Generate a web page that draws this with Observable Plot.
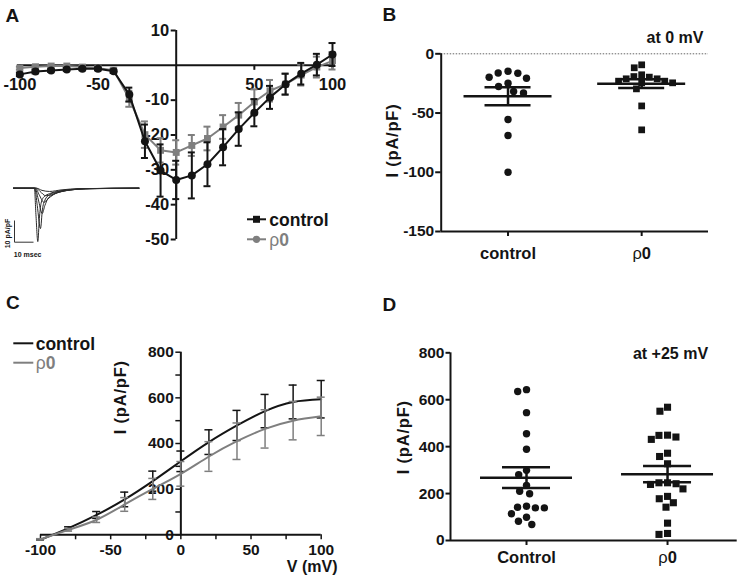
<!DOCTYPE html>
<html>
<head>
<meta charset="utf-8">
<script src="https://cdn.jsdelivr.net/npm/d3@7"></script>
<script src="https://cdn.jsdelivr.net/npm/@observablehq/plot@0.6"></script>
<style>
  html, body { margin: 0; padding: 0; background: #fff; }
  #fig { position: relative; width: 741px; height: 576px; overflow: hidden; background: #fff;
         font-family: "Liberation Sans", Arial, Helvetica, sans-serif; }
</style>
</head>
<body>
<div id="fig"></div>
<script>
// ================= DATA =================
// Panel A: peak current (pA/pF) vs voltage (mV), mean ± SEM
const voltageA    = [-100, -90, -80, -70, -60, -50, -40, -30, -20, -10, 0, 10, 20, 30, 40, 50, 60, 70, 80, 90, 100];
const controlA    = [-2.6, -1.8, -1.5, -1.2, -1.0, -1.0, -1.7, -8.4, -21.8, -30.2, -32.9, -31.6, -28.4, -23.5, -18.3, -13.6, -9.2, -5.4, -2.4, 0.2, 3.1];
const controlAErr = [0.5, 0.5, 0.4, 0.4, 0.4, 0.4, 0.5, 2.0, 4.8, 7.5, 5.5, 6.6, 6.3, 5.2, 4.8, 3.9, 3.3, 3.0, 3.1, 3.1, 3.3];
const rho0A       = [-0.8, -0.4, -0.2, -0.2, -0.5, -0.8, -1.4, -9.6, -19.9, -24.4, -25.0, -23.0, -21.0, -17.7, -14.3, -10.5, -7.3, -5.4, -2.8, -0.5, 1.3];
const rho0AErr    = [0.4, 0.4, 0.3, 0.3, 0.3, 0.4, 0.5, 2.3, 3.8, 3.5, 3.5, 3.0, 3.4, 3.4, 3.5, 3.6, 3.1, 3.0, 3.0, 3.0, 2.5];
const yTicksA = [10, -10, -20, -30, -40, -50];
const xTicksA = [-100, -50, 50, 100];

// Panel A inset: example current traces, [time (ms), current (pA/pF)]
const insetTraces = [
  [[0,0],[11,0],[11.8,-12],[12.8,-24.6],[13.6,-14],[14.5,-7],[16,-4],[19,-2.5],[24,-1.3],[30,-0.6],[38,-0.2],[66,0]],
  [[0,0],[11.2,0],[12.5,-8],[14.2,-18.6],[15.2,-10],[16.5,-5.5],[19,-3],[24,-1.5],[30,-0.7],[38,-0.2],[66,0]],
  [[0,0],[11.4,0],[13,-5],[15.1,-11.7],[16.5,-8],[18,-5],[21,-2.8],[26,-1.4],[32,-0.6],[40,-0.2],[66,0]],
  [[0,0],[11.6,0],[13.5,-3],[16,-6.5],[18,-5],[21,-3],[25,-1.6],[30,-0.8],[38,-0.3],[66,0]],
  [[0,0],[12,0],[14,-1.5],[17,-3.5],[20,-3],[24,-1.8],[30,-0.8],[40,-0.2],[66,0]],
  [[0,0],[12,0],[15,-1],[19,-1.5],[25,-0.8],[35,-0.2],[66,0]]
];
const insetScaleBar = {ms: 10, current: 10};
const insetLabels = ["10 pA/pF", "10 msec"];

// Panel B: current at 0 mV (pA/pF), individual cells
const catsB    = ["control", "ρ0"];
const controlB = [-14.7, -16.4, -16.2, -20.6, -19.8, -24.8, -27.6, -31.8, -33.0, -55.5, -69.0, -100.0];
const rho0B    = [-11.8, -9.3, -21.1, -23.1, -24.5, -19.2, -19.7, -17.7, -23.1, -21.1, -24.5, -29.6, -44.0, -64.2];
const yTicksB  = [0, -50, -100, -150];

// Panel C: I–V relationship (pA/pF), mean ± SEM
const voltageC    = [-100, -80, -60, -40, -20, 0, 20, 40, 60, 80, 100];
const controlC    = [-22, 29, 87, 155, 235, 322, 406, 479, 542, 582, 594];
const controlCErr = [2, 6, 15, 32, 44, 45, 54, 66, 73, 74, 82];
const rho0C       = [-20, 22, 66, 133, 201, 267, 343, 410, 464, 500, 519];
const rho0CErr    = [3, 6, 12, 30, 46, 54, 65, 80, 84, 84, 84];
const yTicksC  = [0, 100, 200, 300, 400, 500, 600, 700, 800];
const yLabelsC = [0, 200, 400, 600, 800];
const xTicksC  = [-100, -75, -50, -25, 0, 25, 50, 75, 100];
const xLabelsC = [-100, -50, 0, 50, 100];

// Panel D: current at +25 mV (pA/pF), individual cells
const catsD    = ["Control", "ρ0"];
const controlD = [643, 635, 545, 455, 389, 299, 280, 235, 199, 210, 146, 139, 139, 142, 114, 99, 68, 82];
const rho0D    = [551, 568, 449, 441, 431, 448, 372, 358, 327, 246, 239, 220, 242, 246, 178, 142, 161, 188, 74, 26, 30];
const yTicksD  = [0, 200, 400, 600, 800];

// ================= STYLE / HELPERS =================
const FONT = '"Liberation Sans", Arial, Helvetica, sans-serif';
const INK = "#141414";
const GRAY = "#7f7f7f";
const fig = document.getElementById("fig");
const bold = {fontWeight: "bold", fill: INK};
const baseStyle = {fontFamily: FONT, background: "transparent", overflow: "visible"};

const shift = (s, v, px) => s.invert(s(v) + px);
const rows = (xs, ys, es) => xs.map((x, i) => ({x, y: ys[i], e: es[i]}));

function errorBars(data, sx, color, width, capPx) {
  return [
    Plot.ruleX(data, {x: "x", y1: d => d.y - d.e, y2: d => d.y + d.e, stroke: color, strokeWidth: width}),
    Plot.ruleY(data, {y: d => d.y + d.e, x1: d => shift(sx, d.x, -capPx), x2: d => shift(sx, d.x, capPx), stroke: color, strokeWidth: width}),
    Plot.ruleY(data, {y: d => d.y - d.e, x1: d => shift(sx, d.x, -capPx), x2: d => shift(sx, d.x, capPx), stroke: color, strokeWidth: width})
  ];
}

function place(svg, left, top) {
  svg.style.position = "absolute";
  svg.style.left = left + "px";
  svg.style.top = top + "px";
  svg.style.maxWidth = "none";
  fig.appendChild(svg);
}

// beeswarm-like horizontal offsets (pixels) from pixel y positions
function swarm(ys, d) {
  const order = d3.range(ys.length).sort((a, b) => ys[a] - ys[b]);
  const placed = [], xs = new Array(ys.length);
  for (const i of order) {
    const y = ys[i], iv = [];
    for (const p of placed) {
      const dy = Math.abs(p.y - y);
      if (dy < d) { const w = Math.sqrt(d * d - dy * dy); iv.push([p.x - w, p.x + w]); }
    }
    const cands = [0];
    for (const [a, b] of iv) cands.push(a, b);
    cands.sort((a, b) => Math.abs(a) - Math.abs(b) || a - b);
    const x = cands.find(c => iv.every(([a, b]) => c <= a + 1e-9 || c >= b - 1e-9));
    xs[i] = x; placed.push({x, y});
  }
  return xs;
}

// ================= PANEL A =================
{
  const sx = d3.scaleLinear([-100, 100], [19.4, 332]);
  const sy = d3.scaleLinear([-50, 10], [239, 30]);
  const ctrl = rows(voltageA, controlA, controlAErr);
  const rho = rows(voltageA, rho0A, rho0AErr);
  const svg = Plot.plot({
    width: 370, height: 290,
    x: {domain: sx.domain(), range: sx.range(), axis: null},
    y: {domain: sy.domain(), range: sy.range(), axis: null},
    style: baseStyle,
    marks: [
      Plot.ruleY([0], {x1: shift(sx, -100, -2.5), x2: shift(sx, 100, 3), stroke: INK, strokeWidth: 2}),
      Plot.ruleX([0], {y1: -50, y2: 10, stroke: INK, strokeWidth: 2}),
      Plot.ruleY(yTicksA, {y: d => d, x1: 0, x2: shift(sx, 0, -5), stroke: INK, strokeWidth: 2}),
      Plot.text(yTicksA, {x: 0, y: d => d, dx: -7, textAnchor: "end", text: d => String(d), fontSize: 16.5, ...bold}),
      Plot.ruleX(xTicksA, {x: d => d, y1: 0, y2: shift(sy, 0, 5), stroke: INK, strokeWidth: 2}),
      Plot.text(xTicksA, {x: d => d, y: 0, dy: 19, text: d => String(d), fontSize: 16.5, ...bold}),
      ...errorBars(rho, sx, GRAY, 2, 3.5),
      Plot.line(rho, {x: "x", y: "y", stroke: GRAY, strokeWidth: 2}),
      Plot.dot(rho, {x: "x", y: "y", symbol: "square", r: 3.9, fill: GRAY}),
      ...errorBars(ctrl, sx, INK, 2, 3.5),
      Plot.line(ctrl, {x: "x", y: "y", stroke: INK, strokeWidth: 2}),
      Plot.dot(ctrl, {x: "x", y: "y", r: 4, fill: INK})
    ]
  });
  place(svg, 0, 0);
}

// ================= INSET (in A) =================
{
  const sx = d3.scaleLinear([0, 66], [13, 138.4]);
  const sy = d3.scaleLinear([0, -30], [17.7, 82.8]);
  const lines = insetTraces.flatMap((tr, k) => tr.map(([t, i]) => ({k, t, i})));
  const t0 = sx.invert(14), i0 = sy.invert(71.7);
  const bar = [
    {t1: t0, i1: i0, t2: t0, i2: i0 + insetScaleBar.current},
    {t1: t0, i1: i0, t2: t0 + insetScaleBar.ms, i2: i0}
  ];
  const svg = Plot.plot({
    width: 150, height: 100,
    x: {domain: sx.domain(), range: sx.range(), axis: null},
    y: {domain: sy.domain(), range: sy.range(), axis: null},
    style: baseStyle,
    marks: [
      Plot.line(lines, {x: "t", y: "i", z: "k", stroke: "#2a2a2a", strokeWidth: 1, curve: "monotone-x"}),
      Plot.link(bar, {x1: "t1", y1: "i1", x2: "t2", y2: "i2", stroke: "#333", strokeWidth: 1}),
      Plot.text([insetLabels[0]], {x: sx.invert(7.3), y: sy.invert(63), rotate: -90, text: d => d, fontSize: 7, ...bold}),
      Plot.text([insetLabels[1]], {x: sx.invert(13.3), y: sy.invert(84.3), textAnchor: "start", text: d => d, fontSize: 7, ...bold})
    ]
  });
  place(svg, 0, 170);
}

// ================= SCATTER PANELS (B, D) =================
function scatterPanel(o) {
  const sx = d3.scaleLinear(o.xDomain, o.xRange), sy = d3.scaleLinear(o.yDomain, o.yRange);
  const ppu = sx(1) - sx(0);
  const pts = [], stats = [];
  o.groups.forEach((vals, g) => {
    const offs = swarm(vals.map(v => sy(v)), o.sep[g]);
    vals.forEach((v, i) => pts.push({g, v, x: sx.invert(sx(g) + offs[i])}));
    const m = d3.mean(vals), s = d3.deviation(vals) / Math.sqrt(vals.length);
    stats.push({g, m, lo: m - s, hi: m + s});
  });
  const [y0, y1] = o.yDomain, [x0, x1] = o.xDomain;
  const mh = o.meanHalfPx / ppu, ch = o.capHalfPx / ppu;
  const marks = [
    o.refY !== undefined ? Plot.ruleY([o.refY], {x1: x0, x2: x1, stroke: "#666", strokeWidth: 1, strokeDasharray: "1.5,1.5"}) : null,
    Plot.ruleX([x0], {y1: y0, y2: y1, stroke: INK, strokeWidth: 2}),
    Plot.ruleY([y0], {x1: x0, x2: x1, stroke: INK, strokeWidth: 2}),
    Plot.ruleY(o.yTicks, {y: d => d, x1: x0, x2: shift(sx, x0, -o.tickLen), stroke: INK, strokeWidth: 2}),
    Plot.text(o.yTicks, {x: x0, y: d => d, dx: o.tickLabelDx, textAnchor: "end", text: d => String(d), fontSize: 15.5, ...bold}),
    Plot.ruleX(o.cats.map((c, i) => i), {x: d => d, y1: y0, y2: shift(sy, y0, 5), stroke: INK, strokeWidth: 2}),
    Plot.text(o.cats, {x: (d, i) => i, y: y0, dy: o.catDy, text: d => d, fontSize: 16.5, ...bold}),
    Plot.text(["I (pA/pF)"], {x: sx.invert(o.yLabelAt[0]), y: sy.invert(o.yLabelAt[1]), rotate: -90, text: d => d, fontSize: 16.5, ...bold}),
    Plot.text([o.note], {x: sx.invert(o.noteAt[0]), y: sy.invert(o.noteAt[1]), textAnchor: o.noteAnchor, text: d => d, fontSize: 16, ...bold}),
    Plot.dot(pts.filter(p => p.g === 0), {x: "x", y: "v", r: o.r[0], fill: INK}),
    Plot.dot(pts.filter(p => p.g === 1), {x: "x", y: "v", r: o.r[1], symbol: "square", fill: INK}),
    Plot.ruleY(stats, {y: "m", x1: d => d.g - mh, x2: d => d.g + mh, stroke: INK, strokeWidth: 2.5}),
    Plot.ruleX(stats, {x: "g", y1: "lo", y2: "hi", stroke: INK, strokeWidth: 2.5}),
    Plot.ruleY(stats, {y: "hi", x1: d => d.g - ch, x2: d => d.g + ch, stroke: INK, strokeWidth: 2.5}),
    Plot.ruleY(stats, {y: "lo", x1: d => d.g - ch, x2: d => d.g + ch, stroke: INK, strokeWidth: 2.5})
  ].filter(Boolean);
  return Plot.plot({
    width: o.width, height: o.height,
    x: {domain: o.xDomain, range: o.xRange, axis: null},
    y: {domain: o.yDomain, range: o.yRange, axis: null},
    style: baseStyle,
    marks
  });
}

place(scatterPanel({
  groups: [controlB, rho0B], cats: catsB,
  width: 371, height: 290,
  xDomain: [-0.5, 1.5], xRange: [70.7, 338],
  yDomain: [-150, 0], yRange: [231, 53.3],
  yTicks: yTicksB, tickLen: 5.5, tickLabelDx: -7,
  catDy: 22, yLabelAt: [22.7, 140], note: "at 0 mV", noteAt: [333, 37], noteAnchor: "end",
  refY: 0, r: [3.7, 3.8], sep: [10, 8], meanHalfPx: 44, capHalfPx: 23
}), 370, 0);

place(scatterPanel({
  groups: [controlD, rho0D], cats: catsD,
  width: 371, height: 286,
  xDomain: [-0.539, 1.494], xRange: [80, 366.7],
  yDomain: [0, 800], yRange: [250, 62.3],
  yTicks: yTicksD, tickLen: 4.5, tickLabelDx: -6,
  catDy: 17, yLabelAt: [33, 146.7], note: "at +25 mV", noteAt: [300, 63], noteAnchor: "middle",
  r: [3.7, 4.0], sep: [9, 8.6], meanHalfPx: 46, capHalfPx: 24
}), 370, 290);

// ================= PANEL C =================
{
  const sx = d3.scaleLinear([-100, 100], [40, 320.7]);
  const sy = d3.scaleLinear([0, 800], [244.3, 61.7]);
  const ctrl = rows(voltageC, controlC, controlCErr);
  const rho = rows(voltageC, rho0C, rho0CErr);
  const svg = Plot.plot({
    width: 370, height: 286,
    x: {domain: sx.domain(), range: sx.range(), axis: null},
    y: {domain: sy.domain(), range: sy.range(), axis: null},
    style: baseStyle,
    marks: [
      Plot.ruleX([0], {y1: 0, y2: 800, stroke: INK, strokeWidth: 2}),
      Plot.ruleY([0], {x1: -100, x2: 100, stroke: INK, strokeWidth: 2}),
      Plot.ruleY(yTicksC, {y: d => d, x1: 0, x2: shift(sx, 0, -5), stroke: INK, strokeWidth: 1.5}),
      Plot.text(yLabelsC, {x: 0, y: d => d, dx: -7, textAnchor: "end", text: d => String(d), fontSize: 15.5, ...bold}),
      Plot.ruleX(xTicksC, {x: d => d, y1: 0, y2: shift(sy, 0, 5), stroke: INK, strokeWidth: 1.5}),
      Plot.text(xLabelsC, {x: d => d, y: 0, dy: 15, text: d => String(d), fontSize: 15.5, ...bold}),
      Plot.text(["V (mV)"], {x: sx.invert(337), y: sy.invert(276.7), textAnchor: "end", text: d => d, fontSize: 16, ...bold}),
      Plot.text(["I (pA/pF)"], {x: sx.invert(120), y: sy.invert(106.7), rotate: -90, text: d => d, fontSize: 16.5, ...bold}),
      ...errorBars(ctrl, sx, INK, 1.5, 4),
      Plot.line(ctrl, {x: "x", y: "y", stroke: INK, strokeWidth: 2, curve: "natural"}),
      ...errorBars(rho, sx, GRAY, 1.5, 4),
      Plot.line(rho, {x: "x", y: "y", stroke: GRAY, strokeWidth: 2, curve: "natural"})
    ]
  });
  place(svg, 0, 290);
}

// ================= OVERLAY: panel letters and legends =================
{
  const ov = d3.create("svg").attr("width", 741).attr("height", 576)
    .style("position", "absolute").style("left", "0px").style("top", "0px")
    .style("pointer-events", "none").style("font-family", FONT);
  const letters = [["A", 5.5, 21.5], ["B", 382.5, 21], ["C", 6, 309], ["D", 382.5, 311]];
  for (const [t, x, y] of letters)
    ov.append("text").attr("x", x).attr("y", y).attr("font-size", 19).attr("font-weight", "bold").attr("fill", INK).text(t);

  function legendRow(x0, x1, y, tx, color, marker, label) {
    ov.append("line").attr("x1", x0).attr("x2", x1).attr("y1", y).attr("y2", y).attr("stroke", color).attr("stroke-width", 2);
    const mx = (x0 + x1) / 2;
    if (marker === "square") ov.append("rect").attr("x", mx - 3.5).attr("y", y - 3.5).attr("width", 7).attr("height", 7).attr("fill", color);
    if (marker === "circle") ov.append("circle").attr("cx", mx).attr("cy", y).attr("r", 3.6).attr("fill", color);
    const t = ov.append("text").attr("x", tx).attr("y", y).attr("dy", "0.36em").attr("font-size", 17.5).attr("font-weight", "bold").attr("fill", color);
    if (label === "ρ0") { t.append("tspan").attr("font-weight", "normal").text("ρ"); t.append("tspan").text("0"); }
    else t.text(label);
  }
  legendRow(247, 266, 219.3, 269.3, INK, "square", "control");
  legendRow(247, 266, 239.3, 269.3, GRAY, "circle", "ρ0");
  legendRow(13.3, 33.3, 343.3, 35.7, INK, null, "control");
  legendRow(13.3, 33.3, 362.7, 35.7, GRAY, null, "ρ0");
  fig.appendChild(ov.node());
}

// ================= text post-processing =================
const SVGNS = "http://www.w3.org/2000/svg";
fig.querySelectorAll("text").forEach(t => {
  if (t.children.length === 0 && t.textContent === "ρ0") {
    t.textContent = "";
    const a = document.createElementNS(SVGNS, "tspan"); a.setAttribute("font-weight", "normal"); a.textContent = "ρ";
    const b = document.createElementNS(SVGNS, "tspan"); b.textContent = "0";
    t.appendChild(a); t.appendChild(b);
  }
  if (t.textContent === "I (pA/pF)") t.setAttribute("letter-spacing", "0.8");
});
</script>
</body>
</html>
